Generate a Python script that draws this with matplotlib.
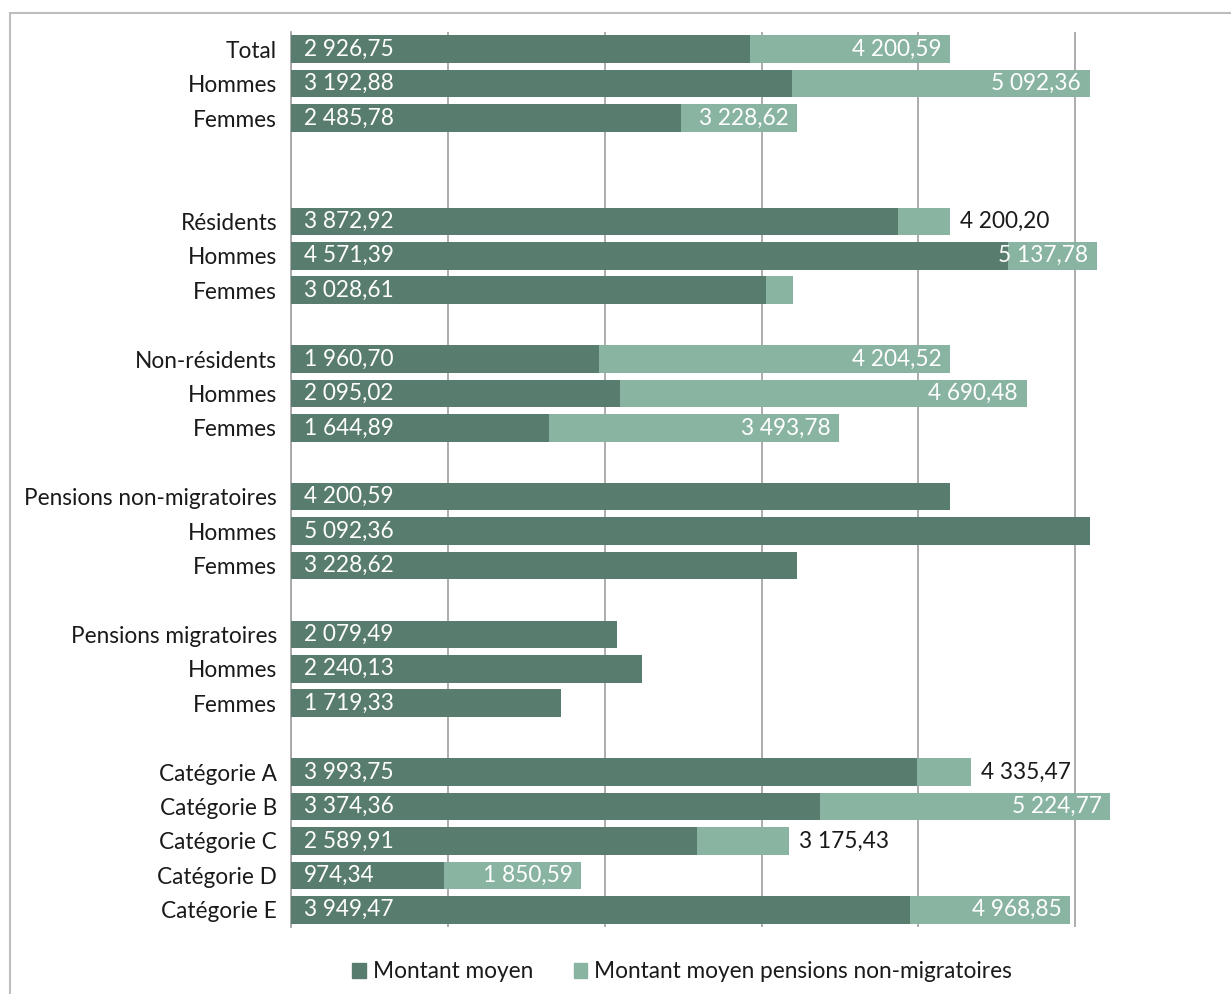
import matplotlib
matplotlib.use("Agg")
import matplotlib.pyplot as plt
from matplotlib.patches import Rectangle, Patch

plt.rcParams['font.family'] = ['Lato', 'DejaVu Sans']

# Row labels, top to bottom ("" rows are spacers between groups)
categories = [
    "Total", "Hommes", "Femmes", "", "",
    "Résidents", "Hommes", "Femmes", "",
    "Non-résidents", "Hommes", "Femmes", "",
    "Pensions non-migratoires", "Hommes", "Femmes", "",
    "Pensions migratoires", "Hommes", "Femmes", "",
    "Catégorie A", "Catégorie B", "Catégorie C", "Catégorie D", "Catégorie E",
]

# Montant moyen
montant_moyen = [
    2926.75, 3192.88, 2485.78, None, None,
    3872.92, 4571.39, 3028.61, None,
    1960.70, 2095.02, 1644.89, None,
    4200.59, 5092.36, 3228.62, None,
    2079.49, 2240.13, 1719.33, None,
    3993.75, 3374.36, 2589.91, 974.34, 3949.47,
]

# Montant moyen pensions non-migratoires
montant_non_migr = [
    4200.59, 5092.36, 3228.62, None, None,
    4200.20, 5137.78, 3200.00, None,
    4204.52, 4690.48, 3493.78, None,
    None, None, None, None,
    None, None, None, None,
    4335.47, 5224.77, 3175.43, 1850.59, 4968.85,
]

# Which light-bar values carry a label, and where
labels_outside = {5, 21, 23}
labels_hidden = {7}

DARK = "#587c6d"
LIGHT = "#88b4a1"
GRID = "#a6a6a6"
TEXT = "#1a1a1a"
FS = 16.3


def fmt(v):
    s = f"{v:,.2f}"
    return s.replace(",", " ").replace(".", ",")


fig = plt.figure(figsize=(12.31, 9.94), dpi=100)

# outer chart frame
fig.patches.append(Rectangle((10 / 1231, -0.1), 1.2, (994 - 13) / 994 + 0.1,
                             transform=fig.transFigure, fill=False,
                             edgecolor="#bdbdbd", linewidth=1.5))

ax = fig.add_axes([291 / 1231, 67 / 994, (1232 - 291) / 1231, (927 - 32) / 994])

n = len(categories)
ys = list(range(n))
h = 0.8

for i in ys:
    lv = montant_non_migr[i]
    dv = montant_moyen[i]
    if lv is not None:
        ax.barh(i, lv, height=h, color=LIGHT, zorder=2)
    if dv is not None:
        ax.barh(i, dv, height=h, color=DARK, zorder=3)
        ax.text(85, i, fmt(dv), color="white", fontsize=FS,
                va="center", ha="left", zorder=5)
    if lv is not None and i not in labels_hidden:
        if i in labels_outside:
            ax.text(lv + 65, i, fmt(lv), color=TEXT, fontsize=FS,
                    va="center", ha="left", zorder=5)
        else:
            ax.text(lv - 55, i, fmt(lv), color="white", fontsize=FS,
                    va="center", ha="right", zorder=5)

ax.set_xlim(0, 6000)
ax.set_ylim(n - 0.5, -0.5)
ax.set_xticks(range(0, 6001, 1000))
ax.set_xticklabels([])
ax.tick_params(axis="x", length=0)
ax.grid(axis="x", color=GRID, linewidth=1.3, zorder=0)
ax.set_axisbelow(True)
ax.set_yticks(ys)
ax.set_yticklabels(categories, fontsize=FS, color=TEXT)
ax.tick_params(axis="y", length=0, pad=10)
for s in ["top", "right", "bottom"]:
    ax.spines[s].set_visible(False)
ax.spines["left"].set_color(GRID)
ax.spines["left"].set_linewidth(1.3)

handles = [Patch(color=DARK, label="Montant moyen"),
           Patch(color=LIGHT, label="Montant moyen pensions non-migratoires")]
fig.legend(handles=handles, loc="center", bbox_to_anchor=(682 / 1231, 22 / 994),
           ncol=2, frameon=False, fontsize=FS, handlelength=0.6, handleheight=0.6,
           handletextpad=0.3, columnspacing=1.8, labelcolor=TEXT)

fig.savefig("out.png", dpi=100)
